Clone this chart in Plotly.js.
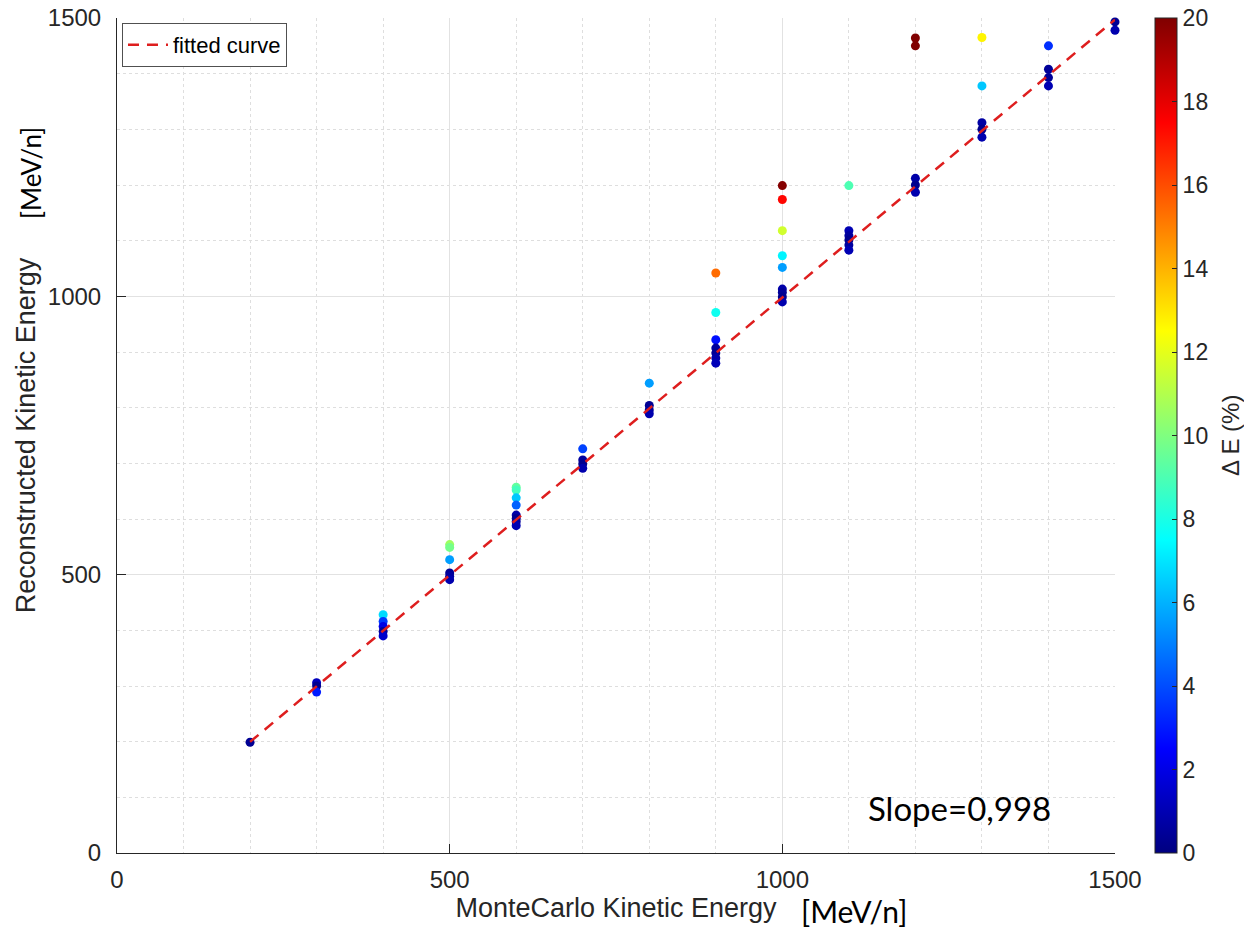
<!DOCTYPE html>
<html>
<head>
<meta charset="utf-8">
<script src="https://cdn.plot.ly/plotly-3.0.1.min.js"></script>
<style>
  html, body { margin: 0; padding: 0; background: #ffffff; }
  #chart { width: 1244px; height: 937px; }
</style>
</head>
<body>
<div id="chart"></div>
<script>
// ---- data ----
// MonteCarlo kinetic energy (MeV/n) of each reconstructed event
const mcEnergy = [
  200,
  300, 300, 300,
  400, 400, 400, 400, 400,
  500, 500, 500, 500, 500, 500,
  600, 600, 600, 600, 600, 600, 600, 600,
  700, 700, 700, 700,
  800, 800, 800, 800,
  900, 900, 900, 900, 900, 900, 900,
  1000, 1000, 1000, 1000, 1000, 1000, 1000, 1000, 1000,
  1100, 1100, 1100, 1100, 1100, 1100,
  1200, 1200, 1200, 1200, 1200,
  1300, 1300, 1300, 1300, 1300,
  1400, 1400, 1400, 1400,
  1500, 1500
];
// Reconstructed kinetic energy (MeV/n)
const recoEnergy = [
  199,
  306, 300, 289,
  428, 416, 407, 398, 390,
  554, 549, 527, 503, 497, 491,
  657, 652, 638, 625, 607, 601, 595, 588,
  726, 706, 699, 691,
  844, 804, 796, 789,
  1042, 971, 922, 907, 898, 889, 880,
  1199, 1174, 1118, 1073, 1052, 1013, 1007, 999, 990,
  1199, 1118, 1109, 1101, 1092, 1083,
  1464, 1450, 1212, 1200, 1187,
  1465, 1378, 1312, 1300, 1286,
  1450, 1408, 1393, 1378,
  1493, 1478
];
// Delta E (%) colour of each point
const deltaE = [
  0.4,
  1.2, 0.3, 3.0,
  6.8, 3.6, 2.0, 0.5, 1.5,
  10.6, 9.8, 5.6, 0.4, 0.6, 0.9,
  9.4, 8.8, 6.4, 4.4, 0.8, 0.3, 0.6, 1.0,
  3.8, 0.6, 0.3, 0.9,
  5.6, 0.4, 0.5, 0.9,
  15.4, 7.8, 2.8, 0.6, 0.4, 0.8, 1.1,
  19.9, 17.4, 11.6, 7.3, 5.6, 0.8, 0.5, 0.3, 0.9,
  9.0, 1.0, 0.6, 0.3, 0.6, 1.0,
  20, 20, 0.8, 0.3, 0.9,
  12.7, 6.4, 0.7, 0.3, 0.9,
  3.4, 0.5, 0.5, 1.0,
  0.4, 0.9
];
// fitted straight line (slope 0.998)
const fitX = [200, 1500];
const fitY = [199.6, 1497];

const axisTicks = [0, 500, 1000, 1500];
const cbarTicks = [0, 2, 4, 6, 8, 10, 12, 14, 16, 18, 20];

// MATLAB "jet" colour map
const jet = [
  [0, 'rgb(0,0,128)'],
  [0.125, 'rgb(0,0,255)'],
  [0.375, 'rgb(0,255,255)'],
  [0.625, 'rgb(255,255,0)'],
  [0.875, 'rgb(255,0,0)'],
  [1, 'rgb(128,0,0)']
];

const ink = 'rgb(38,38,38)';
const sans = 'Liberation Sans, Arial, sans-serif';
const calib = 'Lato, Open Sans, sans-serif';

const points = {
  type: 'scatter',
  mode: 'markers',
  x: mcEnergy,
  y: recoEnergy,
  showlegend: false,
  cliponaxis: false,
  marker: {
    size: 9,
    color: deltaE,
    cmin: 0,
    cmax: 20,
    colorscale: jet,
    showscale: true,
    line: { width: 0 },
    colorbar: {
      x: 1.040,
      xref: 'paper',
      xanchor: 'left',
      y: 0.5,
      yanchor: 'middle',
      len: 1,
      lenmode: 'fraction',
      thickness: 22,
      thicknessmode: 'pixels',
      xpad: 0,
      ypad: 0,
      outlinewidth: 1,
      outlinecolor: ink,
      ticks: 'inside',
      ticklen: 5,
      tickcolor: ink,
      tickvals: cbarTicks,
      tickfont: { family: sans, size: 23, color: ink }
    }
  },
  hoverinfo: 'x+y'
};

const fit = {
  type: 'scatter',
  mode: 'lines',
  name: 'fitted curve',
  x: fitX,
  y: fitY,
  line: { color: 'rgb(222,30,30)', width: 2.5, dash: '11px,8px' }
};

const gridMajor = 'rgb(226,226,226)';
const gridMinor = 'rgb(222,222,222)';

const layout = {
  width: 1244,
  height: 937,
  margin: { l: 117, r: 129, t: 18, b: 84, pad: 0 },
  paper_bgcolor: '#ffffff',
  plot_bgcolor: '#ffffff',
  font: { family: sans, color: ink },
  xaxis: {
    range: [0, 1500],
    tickvals: axisTicks,
    ticks: 'inside',
    ticklen: 9,
    tickcolor: ink,
    tickfont: { family: sans, size: 24, color: ink },
    ticklabelstandoff: 5,
    showline: true,
    linecolor: ink,
    linewidth: 1,
    mirror: false,
    zeroline: false,
    showgrid: true,
    gridcolor: gridMajor,
    gridwidth: 1,
    minor: { dtick: 100, showgrid: true, gridcolor: gridMinor, griddash: 'dot', gridwidth: 1, ticks: '' },
    title: {
      text: 'MonteCarlo Kinetic Energy',
      font: { family: sans, size: 27, color: ink },
      standoff: 1
    }
  },
  yaxis: {
    range: [0, 1500],
    tickvals: axisTicks,
    ticks: 'inside',
    ticklen: 9,
    tickcolor: ink,
    tickfont: { family: sans, size: 24, color: ink },
    ticklabelstandoff: 10,
    showline: true,
    linecolor: ink,
    linewidth: 1,
    mirror: false,
    zeroline: false,
    showgrid: true,
    gridcolor: gridMajor,
    gridwidth: 1,
    minor: { dtick: 100, showgrid: true, gridcolor: gridMinor, griddash: 'dot', gridwidth: 1, ticks: '' },
    title: {
      text: 'Reconstructed Kinetic Energy',
      font: { family: sans, size: 27, color: ink },
      standoff: 4
    }
  },
  legend: {
    x: 0.005,
    y: 0.994,
    xanchor: 'left',
    yanchor: 'top',
    bgcolor: '#ffffff',
    bordercolor: 'rgb(80,80,80)',
    borderwidth: 1,
    font: { family: sans, size: 22, color: 'rgb(0,0,0)' },
    itemwidth: 40
  },
  annotations: [
    {
      text: '\u0394 E (%)',
      xref: 'paper', yref: 'paper',
      x: 1.1162, y: 0.5006,
      xanchor: 'center', yanchor: 'middle',
      textangle: -90,
      showarrow: false,
      font: { family: sans, size: 24, color: ink }
    },
    {
      text: '[MeV/n]',
      xref: 'paper', yref: 'paper',
      x: 0.7385, y: -0.0695,
      xanchor: 'center', yanchor: 'middle',
      showarrow: false,
      font: { family: calib, size: 30, color: '#000000' }
    },
    {
      text: '[MeV/n]',
      xref: 'paper', yref: 'paper',
      x: -0.0862, y: 0.8144,
      xanchor: 'center', yanchor: 'middle',
      textangle: -90,
      showarrow: false,
      font: { family: calib, size: 26, color: '#000000' }
    },
    {
      text: 'Slope=0,998',
      xref: 'paper', yref: 'paper',
      x: 0.8437, y: 0.0539,
      xanchor: 'center', yanchor: 'middle',
      showarrow: false,
      font: { family: calib, size: 33, color: '#000000' }
    }
  ]
};

Plotly.newPlot('chart', [points, fit], layout, { displayModeBar: false, staticPlot: true });
</script>
</body>
</html>
